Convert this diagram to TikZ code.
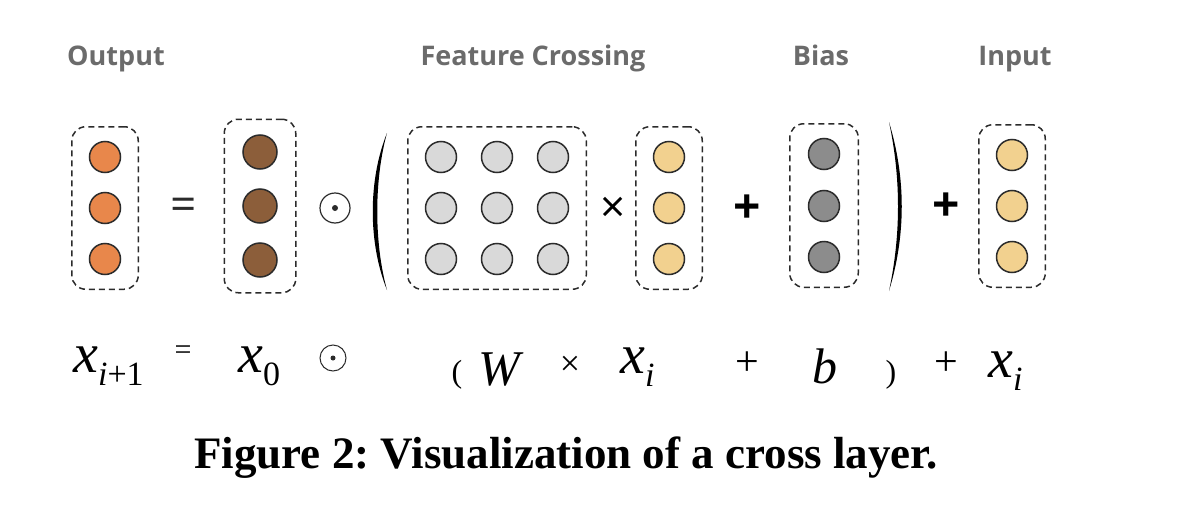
\documentclass[tikz,border=0pt]{standalone}
\usepackage{fontspec}
\setmainfont{Liberation Serif}
\newfontfamily\headfamily{Open Sans}
\usetikzlibrary{fit}
\definecolor{outc}{HTML}{E8874B}
\definecolor{zeroc}{HTML}{8C5E3A}
\definecolor{wc}{HTML}{D9D9D9}
\definecolor{xic}{HTML}{F2D18F}
\definecolor{biasc}{HTML}{8C8C8C}
\definecolor{lblc}{HTML}{6B6B6B}
\definecolor{linec}{HTML}{2B2B2B}
\newcommand{\fs}[1]{\fontsize{#1}{#1}\selectfont}
\newcommand{\vsub}[1]{\raisebox{-13pt}{\fs{34}#1}}
\frenchspacing
\tikzset{
  unit/.style={circle,draw=linec,line width=1.5pt,minimum size=31pt,inner sep=0pt},
  vecbox/.style={draw=linec,dash pattern=on 6pt off 4pt,line width=1.5pt,rounded corners=14pt,inner xsep=17pt,inner ysep=14pt},
  head/.style={anchor=base,text=lblc,font=\headfamily\bfseries\fs{27}},
  sym/.style={inner sep=0pt,font=\headfamily\bfseries\fs{48}},
  eq/.style={anchor=base west,inner sep=0pt,font=\itshape\fs{56}},
  op/.style={inner sep=0pt,font=\fs{32}}
}

\begin{document}
\begin{tikzpicture}[x=1pt,y=-1pt]
\useasboundingbox (0,0) rectangle (1178,514);
\node[head] (hout) at (116,65) {Output};
\node[head] (hcross) at (533,65) {Feature Crossing};
\node[head] (hbias) at (821,65) {Bias};
\node[head] (hin) at (1015,65) {Input};
\foreach \y [count=\k] in {157,208,259} \node[unit,fill=outc] (o\k) at (105,\y) {};
\node[vecbox,fit=(o1)(o3)] (obox) {};
\node[sym,font=\headfamily\fs{46},text=linec] (eq1) at (184,209) {=};
\foreach \y [count=\k] in {152,206,260} \node[unit,fill=zeroc,minimum size=34pt] (z\k) at (260,\y) {};
\node[vecbox,fit=(z1)(z3),inner xsep=18pt,inner ysep=15pt] (zbox) {};
\node[circle,draw=linec,line width=1.2pt,minimum size=30pt] (had1) at (335,208) {};
\fill[linec] (had1.center) circle (3pt);
\fill (387,133) .. controls (368,180) and (368,243) .. (387,290) .. controls (374,243) and (374,180) .. (387,133);
\foreach \y [count=\r] in {157,208,259}
  \foreach \x [count=\c] in {441,497,553} \node[unit,fill=wc] (w\r\c) at (\x,\y) {};
\node[vecbox,fit=(w11)(w33)] (wbox) {};
\node[op,font=\headfamily\fs{44}] (mul1) at (613,210) {×};
\foreach \y [count=\k] in {157,208,259} \node[unit,fill=xic] (xi\k) at (669,\y) {};
\node[vecbox,fit=(xi1)(xi3)] (xibox) {};
\node[sym] (plus1) at (747,209) {+};
\foreach \y [count=\k] in {154,206,257} \node[unit,fill=biasc] (b\k) at (824,\y) {};
\node[vecbox,fit=(b1)(b3),inner xsep=18pt] (bbox) {};
\fill (889,122) .. controls (906,178) and (906,235) .. (889,291) .. controls (901,235) and (901,178) .. (889,122);
\node[sym] (plus2) at (946,207) {+};
\foreach \y [count=\k] in {155,206,257} \node[unit,fill=xic] (in\k) at (1012,\y) {};
\node[vecbox,fit=(in1)(in3)] (inbox) {};
\node[eq] (fout) at (73,372) {x\vsub{i{\upshape+1}}};
\node[op,font=\fs{30}] (feq) at (183,353) {=};
\node[eq] (fzero) at (238,372) {x\vsub{\upshape 0}};
\node[circle,draw=linec,line width=1pt,minimum size=26pt] (had2) at (333,358) {};
\fill[linec] (had2.center) circle (2.5pt);
\node[op,anchor=base] (flp) at (457,382) {(};
\node[eq,font=\itshape\fs{50}] (fw) at (478,385) {W};
\node[op,font=\fs{36}] (fmul) at (570,366) {×};
\node[eq] (fxi) at (620,373) {x\vsub{i}};
\node[op,font=\fs{42}] (fplus1) at (747,364) {+};
\node[eq,font=\itshape\fs{50}] (fb) at (812,383) {b};
\node[op,anchor=base] (frp) at (891,382) {)};
\node[op,font=\fs{42}] (fplus2) at (946,364) {+};
\node[eq] (fxi2) at (988,377) {x\vsub{i}};
\node[font=\bfseries\fs{45}] (cap) at (566,458) {Figure 2: Visualization of a cross layer.};
\end{tikzpicture}
\end{document}
